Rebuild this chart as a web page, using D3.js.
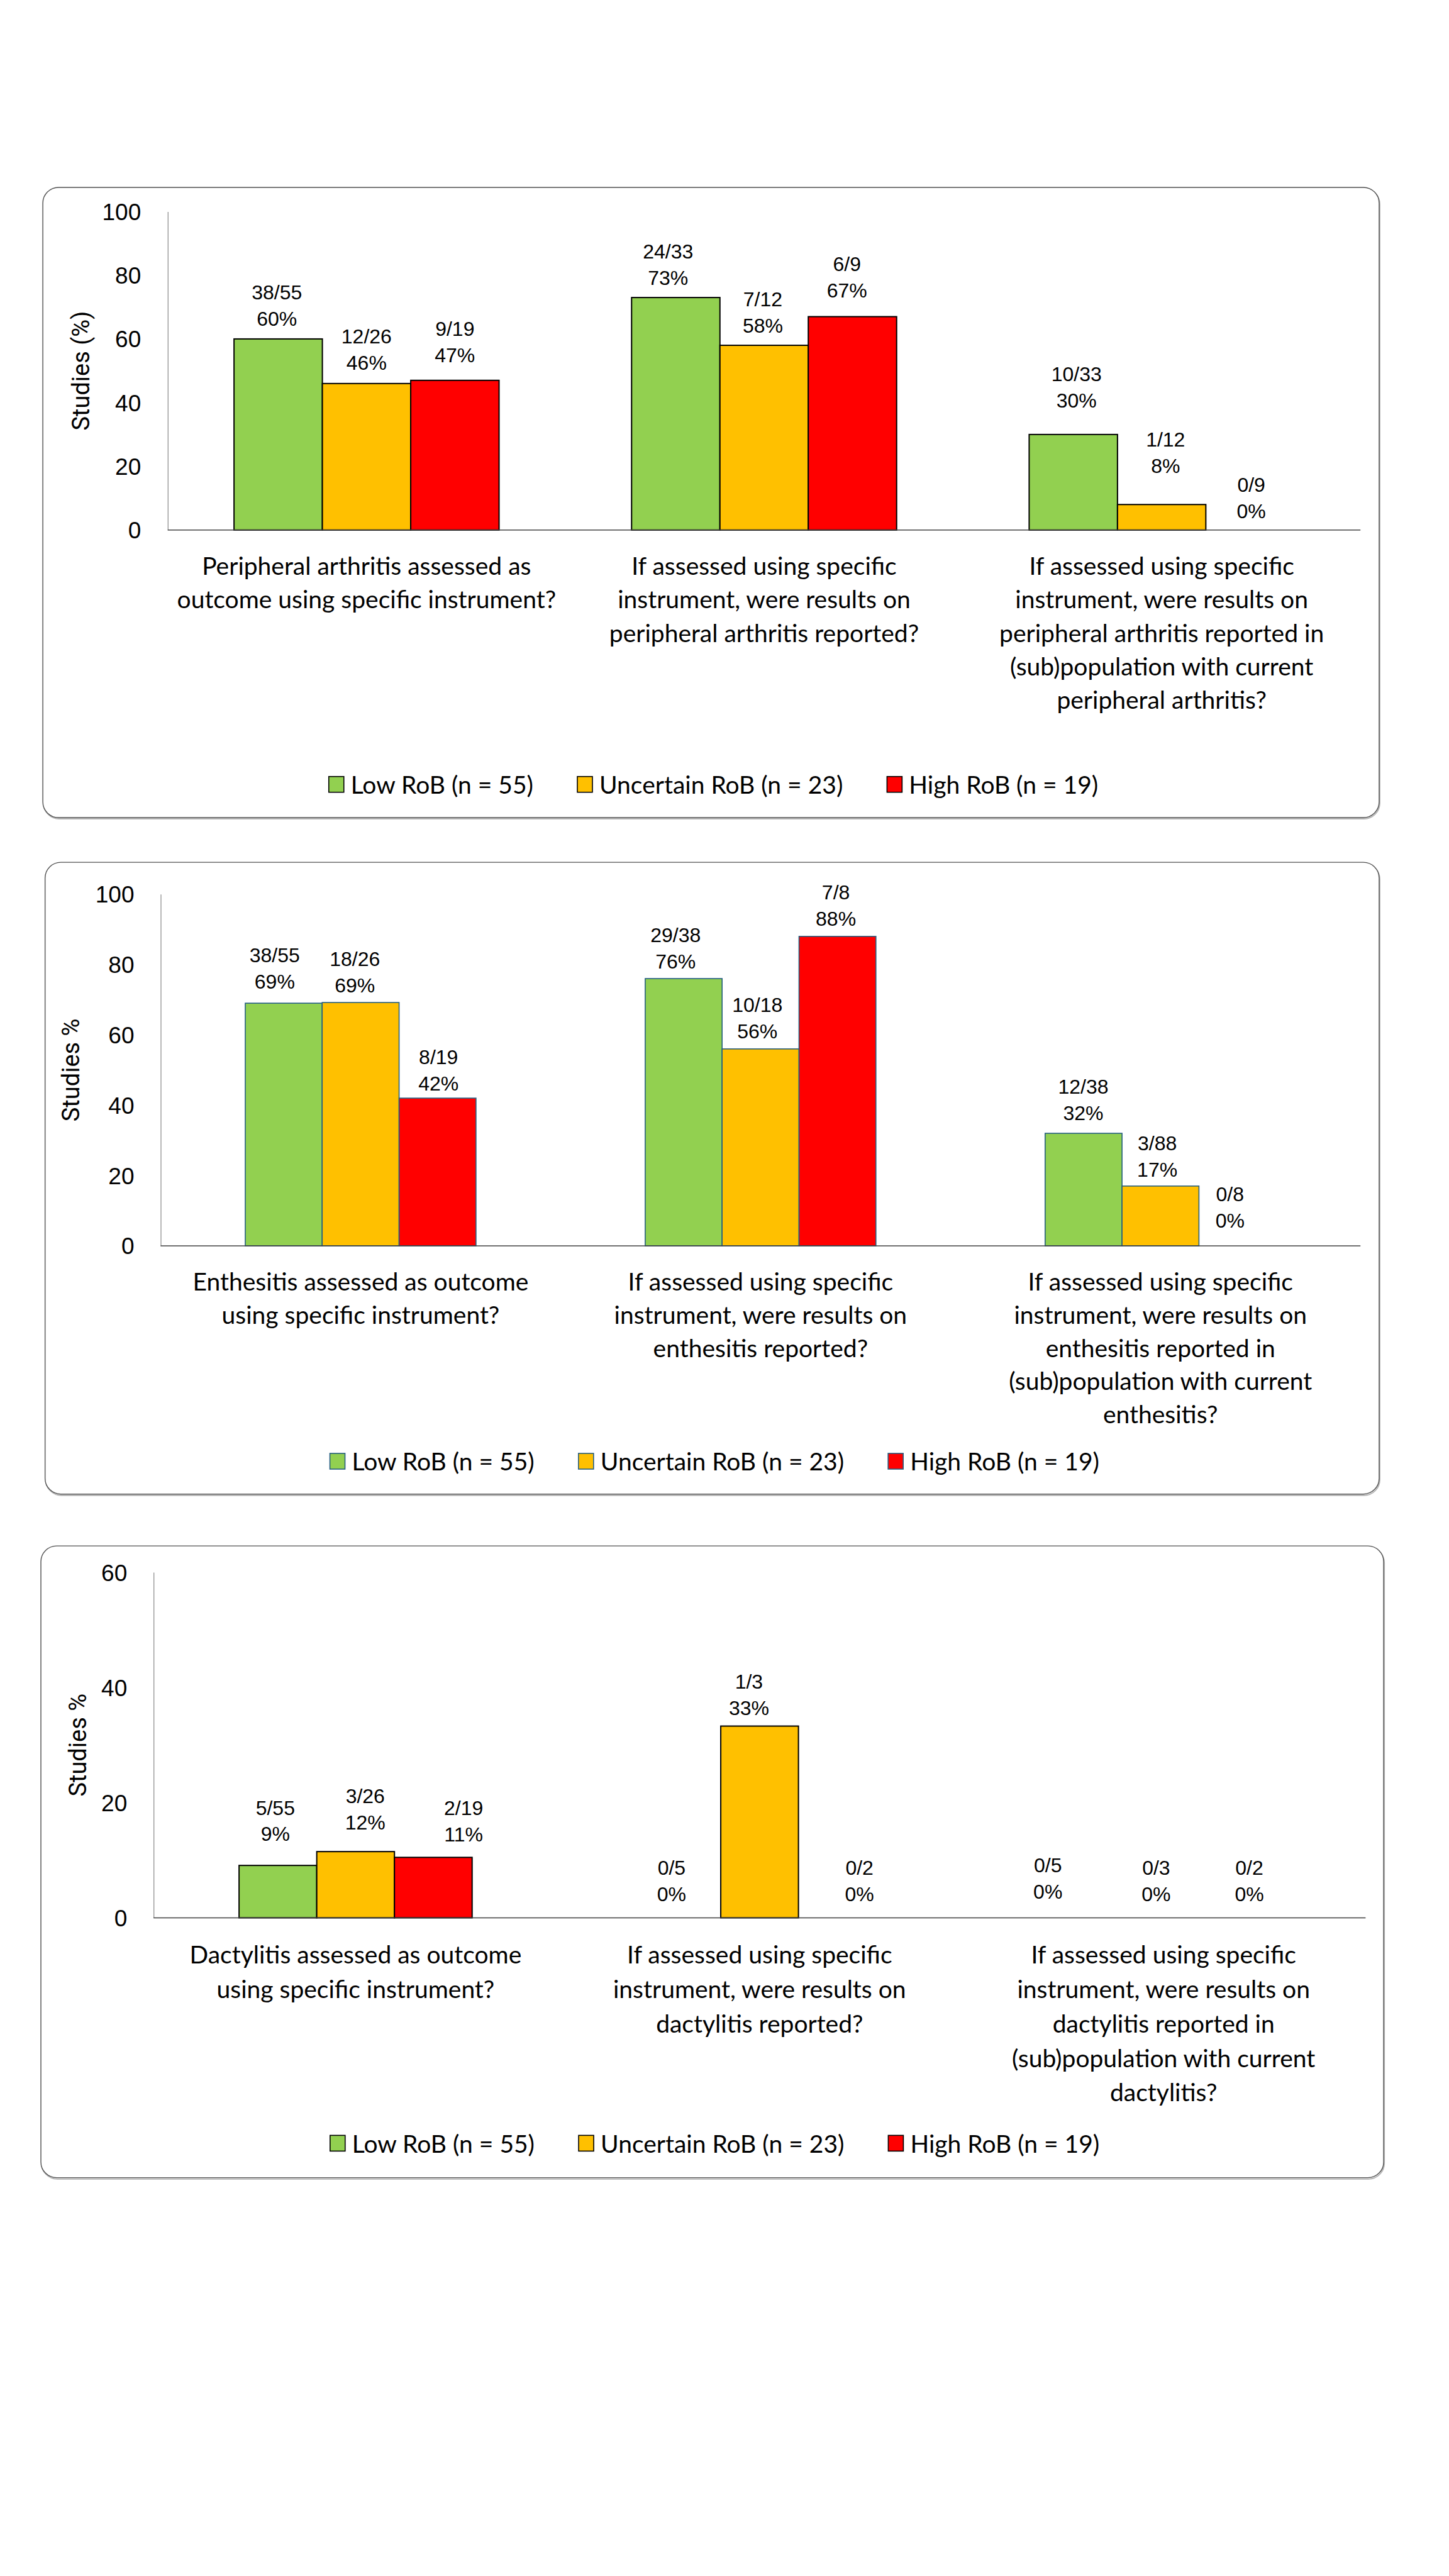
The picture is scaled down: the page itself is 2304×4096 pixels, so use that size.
<!DOCTYPE html>
<html>
<head>
<meta charset="utf-8">
<script src="https://cdn.jsdelivr.net/npm/d3@7"></script>
<style>
  html, body { margin: 0; padding: 0; background: #ffffff; }
  svg { display: block; }
</style>
</head>
<body>
<svg id="chart" width="2304" height="4096"></svg>
<script>
// ---------------- DATA ----------------
const series = ["Low RoB (n = 55)", "Uncertain RoB (n = 23)", "High RoB (n = 19)"];
const seriesColors = ["#92D050", "#FFC000", "#FF0000"];

// Panel 1: peripheral arthritis
const p1Categories = [
  ["Peripheral arthritis assessed as", "outcome using specific instrument?"],
  ["If assessed using specific", "instrument, were results on", "peripheral arthritis reported?"],
  ["If assessed using specific", "instrument, were results on", "peripheral arthritis reported in", "(sub)population with current", "peripheral arthritis?"]
];
const p1Values = [[60, 46, 47], [73, 58, 67], [30, 8, 0]];
const p1Counts = [[38, 12, 9], [24, 7, 6], [10, 1, 0]];
const p1Totals = [[55, 26, 19], [33, 12, 9], [33, 12, 9]];
const p1Pct = [[60, 46, 47], [73, 58, 67], [30, 8, 0]];
const p1Ticks = [0, 20, 40, 60, 80, 100];

// Panel 2: enthesitis
const p2Categories = [
  ["Enthesitis assessed as outcome", "using specific instrument?"],
  ["If assessed using specific", "instrument, were results on", "enthesitis reported?"],
  ["If assessed using specific", "instrument, were results on", "enthesitis reported in", "(sub)population with current", "enthesitis?"]
];
const p2Values = [[69, 69.2, 42], [76, 56, 88], [32, 17, 0]];
const p2Counts = [[38, 18, 8], [29, 10, 7], [12, 3, 0]];
const p2Totals = [[55, 26, 19], [38, 18, 8], [38, 88, 8]];
const p2Pct = [[69, 69, 42], [76, 56, 88], [32, 17, 0]];
const p2Ticks = [0, 20, 40, 60, 80, 100];

// Panel 3: dactylitis
const p3Categories = [
  ["Dactylitis assessed as outcome", "using specific instrument?"],
  ["If assessed using specific", "instrument, were results on", "dactylitis reported?"],
  ["If assessed using specific", "instrument, were results on", "dactylitis reported in", "(sub)population with current", "dactylitis?"]
];
const p3Values = [[9.1, 11.5, 10.5], [0, 33.3, 0], [0, 0, 0]];
const p3Counts = [[5, 3, 2], [0, 1, 0], [0, 0, 0]];
const p3Totals = [[55, 26, 19], [5, 3, 2], [5, 3, 2]];
const p3Pct = [[9, 12, 11], [0, 33, 0], [0, 0, 0]];
const p3Ticks = [0, 20, 40, 60];

// ---------------- LAYOUT (output pixels) ----------------
const S = 0.512; // reference -> output
const layout = [
  { cats: p1Categories, vals: p1Values, cnt: p1Counts, tot: p1Totals, pct: p1Pct, ticks: p1Ticks, yMax: 100,
    yTitle: "Studies (%)", box: [133, 582, 4283, 2539], px: [521, 4225], py: [1646, 657],
    tickRight: 438, titleX: 252, catY: 1756, catStep: 104, legendY: 2436, gapRatio: 1.5,
    barStroke: "#000000", barStrokeW: 2,
    lift: [[62, 64, 77], [60, 60, 81], [105, 120, 59]],
    shift: [[-4, 0, 0], [-24, -4, -17], [10, 12, 4]] },
  { cats: p2Categories, vals: p2Values, cnt: p2Counts, tot: p2Totals, pct: p2Pct, ticks: p2Ticks, yMax: 100,
    yTitle: "Studies %", box: [140, 2678, 4283, 4640], px: [499, 4225], py: [3869, 2777],
    tickRight: 417, titleX: 221, catY: 3979, catStep: 103, legendY: 4538, gapRatio: 2.2,
    barStroke: "#245e80", barStrokeW: 1.6,
    lift: [[67, 53, 45], [53, 55, 54], [62, 51, 78]],
    shift: [[-28, -18, 3], [-25, -10, -5], [-1, -10, -23]] },
  { cats: p3Categories, vals: p3Values, cnt: p3Counts, tot: p3Totals, pct: p3Pct, ticks: p3Ticks, yMax: 60,
    yTitle: "Studies %", box: [127, 4801, 4297, 6763], px: [477, 4241], py: [5956, 4883],
    tickRight: 395, titleX: 243, catY: 6069, catStep: 107, legendY: 6656, gapRatio: 2.2,
    barStroke: "#000000", barStrokeW: 2,
    lift: [[97, 91, 71], [73, 56, 73], [81, 73, 73]],
    shift: [[-8, 30, 94], [-32, -33, 69], [-118, -23, 25]] }
];

const FONT_NUM = "'Liberation Sans', Arial, sans-serif";
const FONT_TXT = "Lato, 'Open Sans', sans-serif";
const FONT_TITLE = "Roboto, 'Liberation Sans', sans-serif";

const svg = d3.select("#chart");

layout.forEach((P) => {
  const g = svg.append("g");
  const [bx0, by0, bx1, by1] = P.box.map(v => v * S);

  // panel frame with slight shadow
  g.append("rect")
    .attr("x", bx0 + 1).attr("y", by0 + 2)
    .attr("width", bx1 - bx0).attr("height", by1 - by0)
    .attr("rx", 25).attr("ry", 25)
    .attr("fill", "none").attr("stroke", "#b5b5b5").attr("stroke-width", 2);
  g.append("rect")
    .attr("x", bx0).attr("y", by0)
    .attr("width", bx1 - bx0).attr("height", by1 - by0)
    .attr("rx", 25).attr("ry", 25)
    .attr("fill", "#ffffff").attr("stroke", "#505050").attr("stroke-width", 1.4);

  const x0 = P.px[0] * S, x1 = P.px[1] * S;
  const yZero = P.py[0] * S, yTop = P.py[1] * S;

  const y = d3.scaleLinear().domain([0, P.yMax]).range([yZero, yTop]);
  const catIdx = P.cats.map((c, i) => i);
  const xOuter = d3.scaleBand().domain(catIdx).range([x0, x1]).padding(0);
  const step = xOuter.step();
  const groupW = step * 3 / (3 + P.gapRatio);

  // y axis (line + labels, no tick marks)
  const yAxis = d3.axisLeft(y).tickValues(P.ticks).tickSize(0).tickPadding(0);
  const ya = g.append("g").attr("transform", `translate(${x0},0)`).call(yAxis);
  ya.select(".domain").attr("stroke", "#8a8a8a").attr("stroke-width", 1.2);
  ya.selectAll(".tick text")
    .attr("x", P.tickRight * S - x0)
    .attr("dy", "0.35em")
    .attr("font-family", FONT_NUM).attr("font-size", 37).attr("fill", "#000");

  // y title
  g.append("text")
    .attr("transform", `translate(${P.titleX * S},${(yZero + yTop) / 2}) rotate(-90)`)
    .attr("text-anchor", "middle").attr("dominant-baseline", "central")
    .attr("font-family", FONT_TITLE).attr("font-size", 38).attr("font-weight", 400)
    .attr("fill", "#000").text(P.yTitle);

  // bars
  P.vals.forEach((row, ci) => {
    const cx = xOuter(ci) + step / 2;
    const xi = d3.scaleBand().domain(series.map((s, i) => i)).range([cx - groupW / 2, cx + groupW / 2]).padding(0);
    row.forEach((v, si) => {
      if (v > 0) {
        g.append("rect")
          .attr("x", xi(si)).attr("y", y(v))
          .attr("width", xi.bandwidth()).attr("height", y(0) - y(v))
          .attr("fill", seriesColors[si])
          .attr("stroke", P.barStroke).attr("stroke-width", P.barStrokeW);
      }
      const lx = xi(si) + xi.bandwidth() / 2 + P.shift[ci][si] * S;
      const ly2 = y(v) - P.lift[ci][si] * S;
      const ly1 = ly2 - 82 * S;
      g.append("text").attr("x", lx).attr("y", ly1)
        .attr("text-anchor", "middle").attr("dominant-baseline", "central")
        .attr("font-family", FONT_NUM).attr("font-size", 32).attr("fill", "#000")
        .text(`${P.cnt[ci][si]}/${P.tot[ci][si]}`);
      g.append("text").attr("x", lx).attr("y", ly2)
        .attr("text-anchor", "middle").attr("dominant-baseline", "central")
        .attr("font-family", FONT_NUM).attr("font-size", 32).attr("fill", "#000")
        .text(`${P.pct[ci][si]}%`);
    });

    // category label
    const t = g.append("text")
      .attr("text-anchor", "middle")
      .attr("font-family", FONT_TXT).attr("font-size", 39).attr("fill", "#000");
    P.cats[ci].forEach((line, li) => {
      t.append("tspan").attr("x", cx).attr("y", (P.catY + li * P.catStep) * S)
        .attr("dominant-baseline", "central").text(line);
    });
  });

  // x axis line
  g.append("line")
    .attr("x1", x0).attr("x2", x1).attr("y1", yZero).attr("y2", yZero)
    .attr("stroke", "#404040").attr("stroke-width", 1.6);

  // legend
  const lg = g.append("g");
  const sqW = 24, sqH = 25, sqGap = 11, itemGap = 70;
  let cursor = 0;
  series.forEach((s, si) => {
    lg.append("rect").attr("x", cursor).attr("y", -sqH / 2)
      .attr("width", sqW).attr("height", sqH)
      .attr("fill", seriesColors[si]).attr("stroke", P.barStroke).attr("stroke-width", 1.6);
    const tx = lg.append("text").attr("x", cursor + sqW + sqGap).attr("y", 0)
      .attr("dominant-baseline", "central")
      .attr("font-family", FONT_TXT).attr("font-size", 39).attr("fill", "#000").text(s);
    cursor += sqW + sqGap + tx.node().getComputedTextLength() + itemGap;
  });
  const legendW = cursor - itemGap;
  const legendCx = (bx0 + bx1) / 2 + 4;
  lg.attr("transform", `translate(${legendCx - legendW / 2},${P.legendY * S})`);
});
</script>
</body>
</html>
